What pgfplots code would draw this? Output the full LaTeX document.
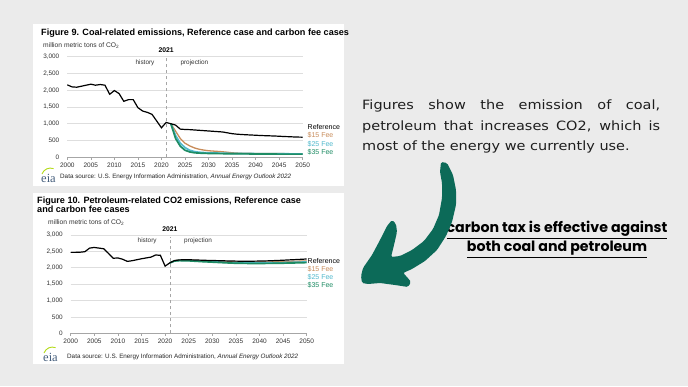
\documentclass[border=0pt]{standalone}
\usepackage{pgfplots}
\pgfplotsset{compat=1.18}
\usepackage{fontspec}
\setmainfont{Liberation Sans}
\newfontfamily\bodyfont{DejaVu Sans}[FakeStretch=1.13]
\newfontfamily\popfont{Poppins}
\newfontfamily\seriffont{Liberation Serif}
\definecolor{bg}{RGB}{235,235,235}
\definecolor{fee15}{RGB}{200,140,90}
\definecolor{fee25}{RGB}{80,185,205}
\definecolor{fee35}{RGB}{30,140,100}
\definecolor{arrowgreen}{RGB}{12,106,88}
\definecolor{gridgray}{RGB}{222,222,222}
\definecolor{eiablue}{RGB}{70,95,125}
\definecolor{textdark}{RGB}{30,30,30}

\pgfplotsset{eia/.style={
  scale only axis,
  xmin=2000, xmax=2050, ymin=0, ymax=3000,
  xtick={2000,2005,...,2050},
  ytick={0,500,...,3000},
  ymajorgrids, grid style={gridgray, line width=0.6pt},
  axis lines*=left,
  y axis line style={draw=none},
  ytick style={draw=none},
  x axis line style={gray!70, line width=0.5pt},
  xtick style={gray!70, line width=0.5pt},
  tick align=outside,
  major tick length=2.5pt,
  /pgf/number format/assume math mode=true,
  xticklabel style={font=\fontsize{6.5}{7}\selectfont, text=black!80, /pgf/number format/1000 sep={}},
  yticklabel style={font=\fontsize{6.4}{7}\selectfont, text=black!80, xshift=-2pt},
  clip=false,
}}

\begin{document}
\begin{tikzpicture}[x=1pt,y=1pt]
% background
\fill[bg] (0,0) rectangle (688,386);
% panels
\fill[white] (33,362) rectangle (344,200);
\fill[white] (33,193) rectangle (344,22);

% ---------- Chart 1: coal ----------
\node[anchor=west, inner sep=0pt, font=\bfseries\fontsize{9.1}{9}\selectfont] at (41,353) {Figure 9. Coal-related emissions, Reference case and carbon fee cases};
\node[anchor=west, font=\fontsize{6.7}{7}\selectfont, text=black!80, inner sep=0pt] at (43,340) {million metric tons of CO\textsubscript{2}};

\begin{axis}[eia, at={(67.3pt,228.7pt)}, anchor=south west, width=235.4pt, height=100.6pt]
\addplot[gray!70, dashed, line width=0.5pt] coordinates {(2021,0) (2021,2950)};
\node[font=\bfseries\fontsize{6.8}{7}\selectfont] at (axis cs:2021,3200) {2021};
\node[font=\fontsize{6.4}{7}\selectfont, text=black!80] at (axis cs:2016.5,2820) {history};
\node[anchor=west, font=\fontsize{6.4}{7}\selectfont, text=black!80] at (axis cs:2023.3,2820) {projection};
\addplot[fee15, line width=1.3pt] coordinates {
(2022,1000) (2023,780) (2024,560) (2025,420) (2026,340) (2027,280) (2028,240) (2029,215) (2030,195) (2031,185) (2032,175) (2033,165) (2034,150) (2035,135) (2036,125) (2037,120) (2038,118) (2040,115) (2045,110) (2050,105)};
\addplot[fee25, line width=1.7pt] coordinates {
(2022,1000) (2023,650) (2024,420) (2025,290) (2026,210) (2027,170) (2028,150) (2029,140) (2030,130) (2032,125) (2035,115) (2040,110) (2045,105) (2050,100)};
\addplot[fee35, line width=1.7pt] coordinates {
(2022,1000) (2023,560) (2024,330) (2025,210) (2026,160) (2027,135) (2028,125) (2029,120) (2030,115) (2035,105) (2040,100) (2045,95) (2050,95)};
\addplot[black, line width=1.2pt] coordinates {
(2000,2160) (2001,2100) (2002,2090) (2003,2120) (2004,2150) (2005,2180) (2006,2150) (2007,2170) (2008,2150) (2009,1880) (2010,1990) (2011,1900) (2012,1670) (2013,1720) (2014,1720) (2015,1480) (2016,1380) (2017,1340) (2018,1280) (2019,1080) (2020,880) (2021,1040)
(2022,1000) (2023,960) (2024,840) (2025,830) (2026,825) (2027,815) (2028,805) (2029,795) (2030,785) (2031,775) (2032,765) (2033,755) (2034,730) (2035,705) (2036,690) (2037,680) (2038,672) (2039,665) (2040,658) (2041,650) (2042,645) (2043,640) (2044,635) (2045,628) (2046,620) (2047,615) (2048,608) (2049,603) (2050,600)};
\end{axis}
\node[anchor=west, font=\fontsize{7}{7}\selectfont, inner sep=0pt] at (307.5,259) {Reference};
\node[anchor=west, font=\fontsize{7}{7}\selectfont, text=fee15, inner sep=0pt] at (307.5,251) {\$15 Fee};
\node[anchor=west, font=\fontsize{7}{7}\selectfont, text=fee25, inner sep=0pt] at (307.5,242) {\$25 Fee};
\node[anchor=west, font=\fontsize{7}{7}\selectfont, text=fee35, inner sep=0pt] at (307.5,233.7) {\$35 Fee};
% eia logo + source
\draw[yellow!70!green, line width=0.9pt] (42,212) arc[start angle=160, end angle=70, radius=9];
\node[anchor=west, font=\seriffont\fontsize{12.5}{12}\selectfont, text=eiablue, inner sep=0pt] at (41,207.5) {eia};
\node[anchor=west, font=\fontsize{6.3}{6}\selectfont, text=black!85, inner sep=0pt] at (60,209) {Data source: U.S. Energy Information Administration, \textit{Annual Energy Outlook 2022}};

% ---------- Chart 2: petroleum ----------
\node[anchor=north west, font=\bfseries\fontsize{9.1}{8.3}\selectfont, align=left, inner sep=0pt] at (37,189.5) {Figure 10. Petroleum-related CO2 emissions, Reference case\\and carbon fee cases};
\node[anchor=west, font=\fontsize{6.7}{7}\selectfont, text=black!80, inner sep=0pt] at (48,163.3) {million metric tons of CO\textsubscript{2}};

\begin{axis}[eia, at={(70.7pt,52.7pt)}, anchor=south west, width=236pt, height=98.3pt]
\addplot[gray!70, dashed, line width=0.5pt] coordinates {(2021,0) (2021,2950)};
\node[font=\bfseries\fontsize{6.8}{7}\selectfont] at (axis cs:2021,3183) {2021};
\node[font=\fontsize{6.4}{7}\selectfont, text=black!80] at (axis cs:2016.2,2817) {history};
\node[anchor=west, font=\fontsize{6.4}{7}\selectfont, text=black!80] at (axis cs:2023.3,2817) {projection};
\addplot[fee15, line width=1.3pt] coordinates {
(2021,2150) (2022,2215) (2023,2232) (2025,2232) (2028,2212) (2030,2200) (2033,2185) (2035,2175) (2038,2170) (2040,2172) (2043,2180) (2045,2186) (2048,2200) (2050,2210)};
\addplot[fee25, line width=1.5pt] coordinates {
(2021,2150) (2022,2210) (2023,2225) (2025,2222) (2028,2198) (2030,2185) (2033,2165) (2035,2155) (2038,2150) (2040,2150) (2043,2155) (2045,2160) (2048,2172) (2050,2180)};
\addplot[fee35, line width=1.7pt] coordinates {
(2021,2150) (2022,2205) (2023,2218) (2025,2212) (2028,2186) (2030,2172) (2033,2150) (2035,2138) (2038,2132) (2040,2132) (2043,2135) (2045,2140) (2048,2150) (2050,2158)};
\addplot[black, line width=1.2pt] coordinates {
(2000,2470) (2001,2470) (2002,2475) (2003,2490) (2004,2600) (2005,2620) (2006,2600) (2007,2580) (2008,2440) (2009,2290) (2010,2300) (2011,2260) (2012,2195) (2013,2215) (2014,2245) (2015,2275) (2016,2300) (2017,2325) (2018,2390) (2019,2380) (2020,2050) (2021,2150)
(2022,2220) (2023,2240) (2024,2245) (2025,2245) (2026,2240) (2027,2235) (2028,2230) (2029,2225) (2030,2222) (2031,2218) (2032,2214) (2033,2210) (2034,2206) (2035,2203) (2036,2200) (2037,2200) (2038,2200) (2039,2202) (2040,2205) (2041,2208) (2042,2212) (2043,2218) (2044,2224) (2045,2230) (2046,2238) (2047,2245) (2048,2252) (2049,2260) (2050,2268)};
\end{axis}
\node[anchor=west, font=\fontsize{7}{7}\selectfont, inner sep=0pt] at (307.5,125.3) {Reference};
\node[anchor=west, font=\fontsize{7}{7}\selectfont, text=fee15, inner sep=0pt] at (307.5,117) {\$15 Fee};
\node[anchor=west, font=\fontsize{7}{7}\selectfont, text=fee25, inner sep=0pt] at (307.5,108.7) {\$25 Fee};
\node[anchor=west, font=\fontsize{7}{7}\selectfont, text=fee35, inner sep=0pt] at (307.5,100.7) {\$35 Fee};
\draw[yellow!70!green, line width=0.9pt] (44,33) arc[start angle=160, end angle=70, radius=9];
\node[anchor=west, font=\seriffont\fontsize{12.5}{12}\selectfont, text=eiablue, inner sep=0pt] at (43,28.5) {eia};
\node[anchor=west, font=\fontsize{6.3}{6}\selectfont, text=black!85, inner sep=0pt] at (67,29.5) {Data source: U.S. Energy Information Administration, \textit{Annual Energy Outlook 2022}};

% ---------- Right side text ----------
\node[anchor=north west, inner sep=0pt, text width=298pt, align=justify, text=textdark,
      font=\bodyfont\fontsize{12.8}{20.7}\selectfont] at (362,286.5) {Figures show the emission of coal,\linebreak petroleum that increases CO2, which is\linebreak most of the energy we currently use.};

\node[align=center, inner sep=0pt, text=black, font=\popfont\bfseries\fontsize{14.2}{19}\selectfont] at (557,146.5)
  {\underline{carbon tax is effective against}\\\underline{both coal and petroleum}};

% ---------- Arrow ----------
\fill[arrowgreen, rounded corners=1.5pt]
 (441,224) -- (447,223) -- (453,211) -- (456,196) -- (456,181) -- (452,164) -- (446,150) -- (437,136) -- (425,125) -- (412,117) -- (403,113)
 -- (407,109) -- (411,104) -- (408,99)
 -- (395,101) -- (380,103) -- (368,102) -- (362,103)
 -- (361,110) -- (363,118)
 -- (372,131) -- (380,146) -- (387,160) -- (392,166) -- (396,162) -- (397,154) -- (394,141) -- (391,129)
 -- (400,130) -- (412,136) -- (424,145) -- (433,157) -- (439,171) -- (442,188) -- (442,203) -- (440,214) -- cycle;
\end{tikzpicture}
\end{document}
